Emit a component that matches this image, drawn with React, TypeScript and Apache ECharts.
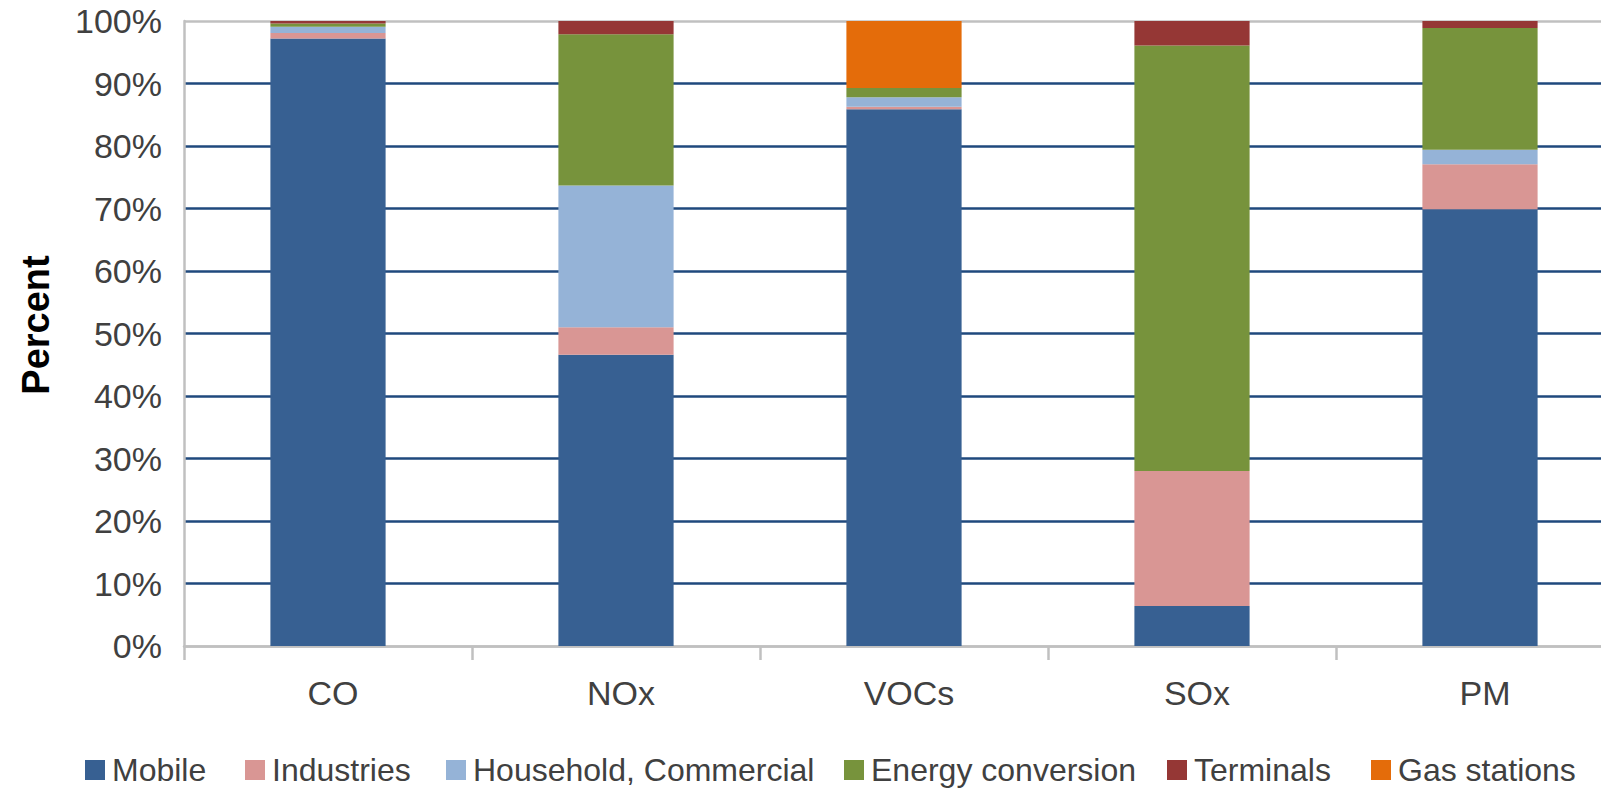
import React, { useEffect, useRef } from "react";
import * as echarts from "echarts";

// Emission sources by pollutant, share of total (%)
const categories = ["CO", "NOx", "VOCs", "SOx", "PM"];
const mobile = [97.2, 46.6, 85.9, 6.4, 69.9];
const industries = [0.9, 4.4, 0.4, 21.6, 7.2];
const householdCommercial = [1.0, 22.7, 1.5, 0, 2.3];
const energyConversion = [0.5, 24.2, 1.5, 68.1, 19.5];
const terminals = [0.4, 2.1, 0, 3.9, 1.1];
const gasStations = [0, 0, 10.7, 0, 0];

const seriesDefs = [
  { name: "Mobile", data: mobile, color: "#376092" },
  { name: "Industries", data: industries, color: "#D99694" },
  { name: "Household, Commercial", data: householdCommercial, color: "#95B3D7" },
  { name: "Energy conversion", data: energyConversion, color: "#77933C" },
  { name: "Terminals", data: terminals, color: "#953735" },
  { name: "Gas stations", data: gasStations, color: "#E46C0A" },
];

const legendLefts = [80, 240, 441, 839, 1162, 1366];

const FONT = "'Liberation Sans', Arial, Helvetica, sans-serif";
const TEXT = "#404040";
const GREY = "#c0c0c0";
const GRID_BLUE = "#1F497D";

// The plot runs a little past the right edge of the visible page
const CANVAS_W = 1630;
const CANVAS_H = 789;

export default function App() {
  const ref = useRef<HTMLDivElement>(null);

  useEffect(() => {
    document.body.style.margin = "0";
    document.body.style.overflow = "hidden";
    document.documentElement.style.overflow = "hidden";
    const chart = echarts.init(ref.current!, null, { renderer: "svg" });

    const splitColors = [GREY, ...Array(9).fill(GRID_BLUE), GREY];

    chart.setOption({
      animation: false,
      backgroundColor: "#ffffff",
      textStyle: { fontFamily: FONT },
      grid: { left: 184, top: 21, width: 1440, height: 625, containLabel: false },
      legend: seriesDefs.map((s, i) => ({
        data: [s.name],
        left: legendLefts[i],
        top: 749,
        icon: "rect",
        itemWidth: 20,
        itemHeight: 20,
        selectedMode: false,
        textStyle: { fontSize: 32, color: TEXT, fontFamily: FONT, padding: [0, 0, 0, 2] },
      })),
      xAxis: {
        type: "category",
        data: categories,
        axisLine: { lineStyle: { color: GREY, width: 2.5 } },
        axisTick: { show: true, length: 14, lineStyle: { color: GREY, width: 2.5 } },
        axisLabel: {
          fontSize: 34,
          color: TEXT,
          margin: 30,
          fontFamily: FONT,
          padding: [0, 0, 0, 10],
        },
        splitLine: { show: false },
      },
      yAxis: {
        type: "value",
        min: 0,
        max: 100,
        interval: 10,
        axisLine: { show: true, lineStyle: { color: GREY, width: 2.5 } },
        axisTick: { show: false },
        axisLabel: { fontSize: 34, color: TEXT, margin: 22, formatter: "{value}%", fontFamily: FONT },
        splitLine: { show: true, lineStyle: { color: splitColors, width: 2.5 } },
      },
      graphic: [
        {
          type: "text",
          x: 36,
          y: 325,
          rotation: Math.PI / 2,
          style: {
            text: "Percent",
            font: `bold 38px ${FONT}`,
            fill: "#000000",
            align: "center",
            verticalAlign: "middle",
          },
        },
      ],
      series: seriesDefs.map((s) => ({
        name: s.name,
        type: "bar",
        stack: "total",
        barWidth: "40%",
        data: s.data,
        itemStyle: { color: s.color },
        emphasis: { disabled: true },
      })),
    });

    return () => chart.dispose();
  }, []);

  return <div ref={ref} style={{ width: CANVAS_W, height: CANVAS_H }} />;
}
